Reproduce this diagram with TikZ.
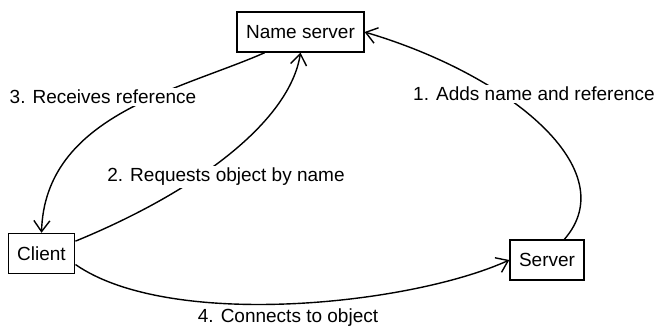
\documentclass[tikz,border=0pt]{standalone}
\usepackage{fontspec}
\setmainfont{Liberation Sans}
\usepackage{tikz}
\usetikzlibrary{arrows.meta}

\begin{document}
\begin{tikzpicture}[x=0.5pt,y=-0.5pt,
    party/.style={draw,line width=0.7pt,inner xsep=4.5pt,minimum height=20pt,font=\fontsize{9.5}{11}\selectfont},
    flow/.style={-{Straight Barb[length=5.5pt,width=8pt]},line width=0.7pt},
    tag/.style={fill=white,inner sep=1pt,font=\fontsize{9.5}{11}\selectfont}]
        \useasboundingbox (0,0) rectangle (654,329);
        \node[party] (ns) at (300.5,32) {Name server};
        \node[party] (client) at (41.5,253.5) {Client};
        \node[party] (srv) at (547,260) {Server};
        \draw[flow] (srv.50) .. controls (625,170) and (510,75) .. (ns.east);
        \draw[flow] (client.20) .. controls (200,190) and (290,120) .. (ns.south);
        \draw[flow] (ns.210) .. controls (180,90) and (45,115) .. (client.north);
        \draw[flow] (client.-18) .. controls (170,330) and (410,305) .. (srv.west);
        \node[tag] (addlbl) at (534,94) {1. Adds name and reference};
        \node[tag] (reqlbl) at (226,177) {2. Requests object by name};
        \node[tag] (recvlbl) at (103,97) {3. Receives reference};
        \node[tag] (connlbl) at (288,318) {4. Connects to object};
      \end{tikzpicture}
\end{document}
